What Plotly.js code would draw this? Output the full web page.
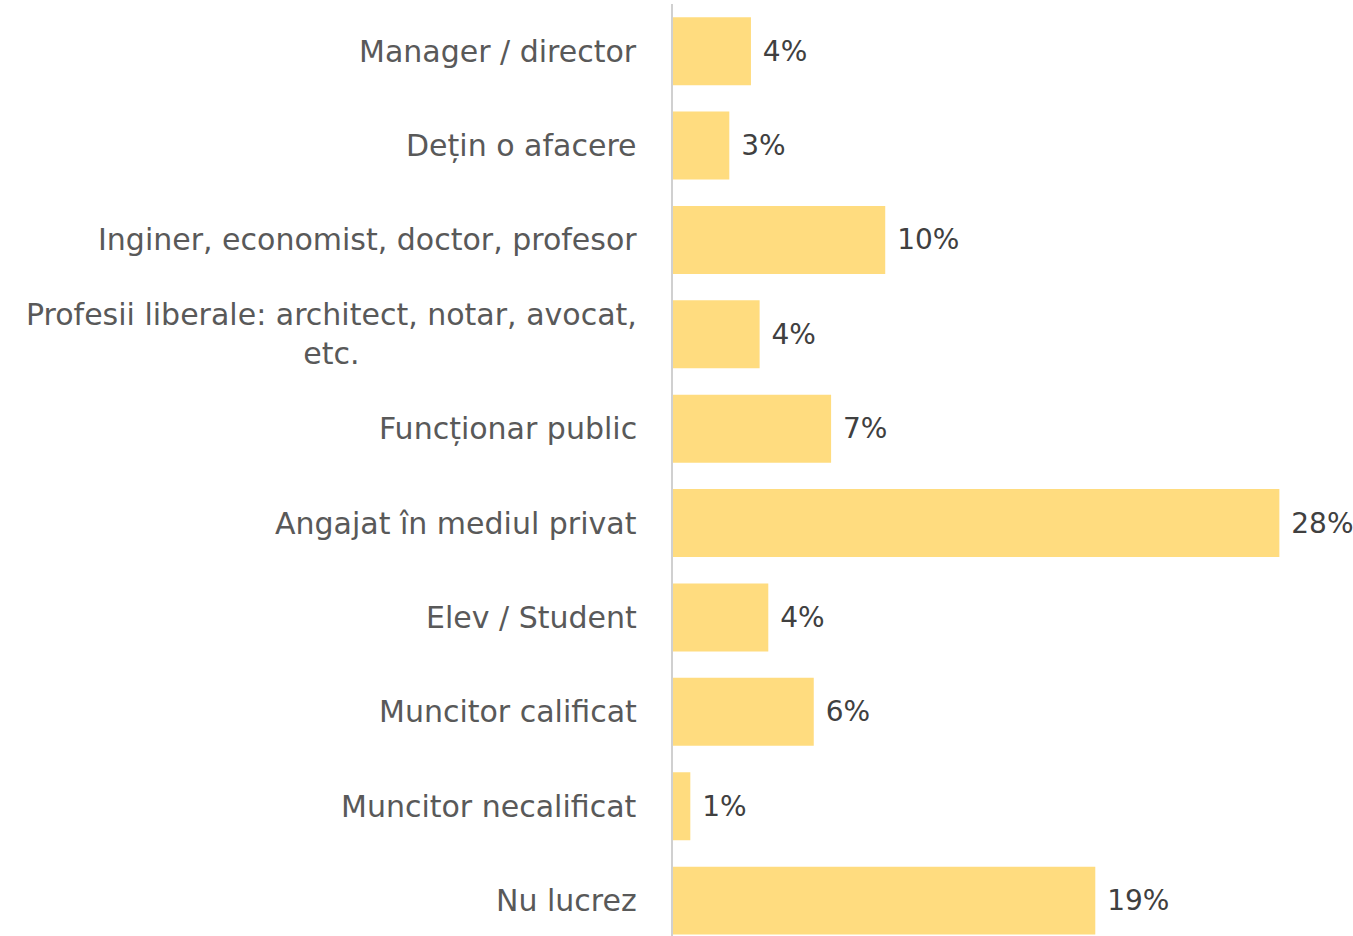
<!DOCTYPE html>
<html>
<head>
<meta charset="utf-8">
<script src="https://cdn.plot.ly/plotly-3.0.1.min.js"></script>
<style>
  html, body { margin: 0; padding: 0; background: #fff; }
  #chart { width: 1353px; height: 936px; }
</style>
</head>
<body>
<div id="chart"></div>
<script>
const categories = [
  'Manager / director',
  'Dețin o afacere',
  'Inginer, economist, doctor, profesor',
  'Profesii liberale: architect, notar, avocat,<br>etc.',
  'Funcționar public',
  'Angajat în mediul privat',
  'Elev / Student',
  'Muncitor calificat',
  'Muncitor necalificat',
  'Nu lucrez'
];
const values = [3.6, 2.6, 9.8, 4.0, 7.3, 28.0, 4.4, 6.5, 0.8, 19.5];
const labels = ['4%', '3%', '10%', '4%', '7%', '28%', '4%', '6%', '1%', '19%'];

const FONT = '"DejaVu Sans", sans-serif';

const drawChart = () => {
  var trace = {
    type: 'bar',
    orientation: 'h',
    x: values,
    y: categories,
    text: labels.map(t => ' ' + t),
    textposition: 'outside',
    cliponaxis: false,
    textfont: { family: FONT, size: 28, color: '#404040' },
    marker: { color: '#FFDC7F' },
    hoverinfo: 'none'
  };

  // category labels as annotations so the two-line one can be centred
  var annotations = categories.map(c => ({
    x: 0, xref: 'x',
    y: c, yref: 'y',
    text: c,
    showarrow: false,
    xanchor: 'right',
    xshift: -34,
    yshift: 0,
    align: 'center',
    font: { family: FONT, size: 30, color: '#595959' }
  }));

  var layout = {
    width: 1353,
    height: 936,
    margin: { l: 673, r: 0, t: 4, b: 0 },
    paper_bgcolor: '#ffffff',
    plot_bgcolor: '#ffffff',
    showlegend: false,
    bargap: 0.28,
    xaxis: {
      range: [0, 31.4],
      showgrid: false,
      zeroline: false,
      showticklabels: false,
      showline: false
    },
    yaxis: {
      type: 'category',
      range: [9.375, -0.5],
      showgrid: false,
      zeroline: false,
      showticklabels: false,
      showline: true,
      linecolor: '#d0d0d0',
      linewidth: 2,
      ticks: ''
    },
    annotations: annotations
  };

  Plotly.newPlot('chart', [trace], layout, { staticPlot: true });
};

drawChart();
</script>
</body>
</html>
